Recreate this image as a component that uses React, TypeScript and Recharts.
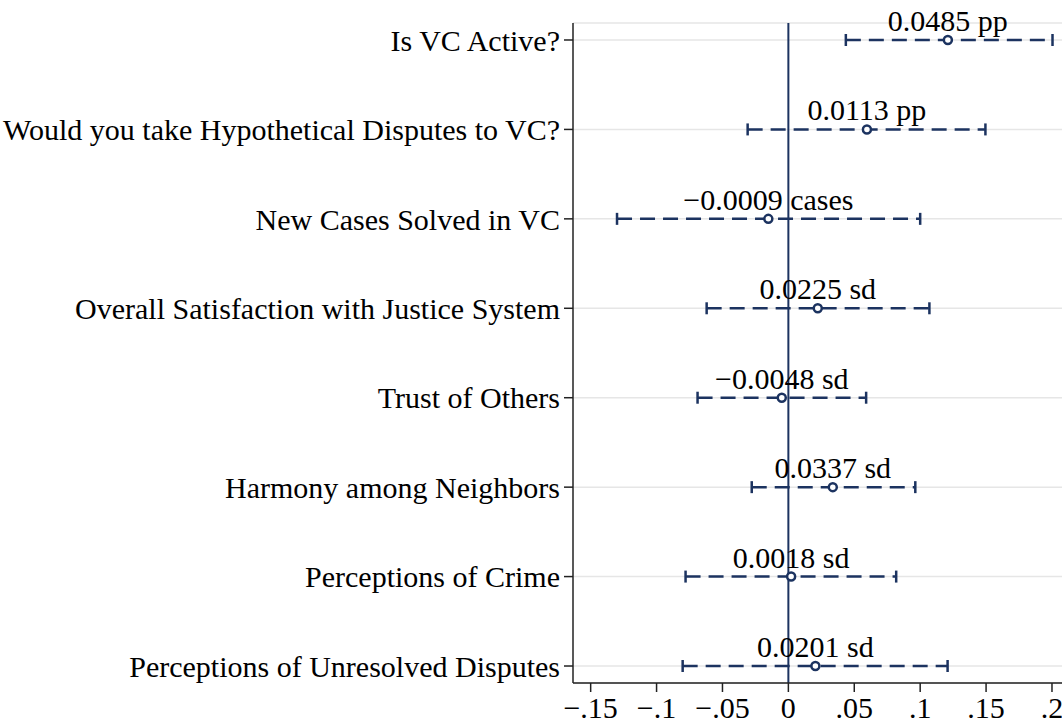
import { ScatterChart, Scatter, XAxis, YAxis, CartesianGrid, ErrorBar, ReferenceLine } from "recharts";

const outcomes = [
  "Is VC Active?",
  "Would you take Hypothetical Disputes to VC?",
  "New Cases Solved in VC",
  "Overall Satisfaction with Justice System",
  "Trust of Others",
  "Harmony among Neighbors",
  "Perceptions of Crime",
  "Perceptions of Unresolved Disputes",
];
const estimates = [0.121, 0.0596, -0.0152, 0.0223, -0.005, 0.0337, 0.0021, 0.0205];
const lower = [0.0436, -0.0309, -0.13, -0.062, -0.0689, -0.0278, -0.078, -0.0802];
const upper = [0.2004, 0.1495, 0.1, 0.107, 0.059, 0.0963, 0.0818, 0.1208];
const effectLabels = ["0.0485 pp", "0.0113 pp", "\u22120.0009 cases", "0.0225 sd", "\u22120.0048 sd", "0.0337 sd", "0.0018 sd", "0.0201 sd"];

const xTicks = [-0.15, -0.1, -0.05, 0, 0.05, 0.1, 0.15, 0.2];
const xTickLabels = ["\u2212.15", "\u2212.1", "\u2212.05", "0", ".05", ".1", ".15", ".2"];

const NAVY = "#1c3360";
const FONT = "'Liberation Serif', 'Times New Roman', serif";

// top row first, so position counts down
const data = outcomes.map((name, i) => ({
  name,
  pos: outcomes.length - i,
  est: estimates[i],
  err: [estimates[i] - lower[i], upper[i] - estimates[i]],
  label: effectLabels[i],
}));

const yTicks = data.map((d) => d.pos);

const PointWithLabel = (props: any) => {
  const { cx, cy, payload } = props;
  return (
    <g>
      <circle cx={cx} cy={cy} r={4} fill="#fff" stroke={NAVY} strokeWidth={2.5} />
      <text x={cx} y={cy - 9} textAnchor="middle" fontFamily={FONT} fontSize={30} fill="#000">
        {payload.label}
      </text>
    </g>
  );
};

export default function App() {
  return (
    <div style={{ position: "absolute", left: 0, top: 0, width: 1062, height: 726, background: "#fff" }}>
      <ScatterChart width={1062} height={726} margin={{ top: 23, right: 0, bottom: 0, left: 0 }}>
        <CartesianGrid horizontal vertical={false} stroke="#e6e6e6" strokeWidth={1.5} />
        <XAxis
          type="number"
          dataKey="est"
          domain={[-0.1634, 0.2076]}
          ticks={xTicks}
          tickFormatter={(v: number) => xTickLabels[xTicks.indexOf(v)] ?? ""}
          height={43}
          tickSize={9}
          tickMargin={5}
          stroke="#222"
          strokeWidth={1.5}
          tick={{ fill: "#000", fontFamily: FONT, fontSize: 30 }}
          interval={0}
        />
        <YAxis
          type="number"
          dataKey="pos"
          domain={[0.81, 8.19]}
          ticks={yTicks}
          tickFormatter={(v: number) => outcomes[outcomes.length - v] ?? ""}
          width={573}
          tickSize={9}
          tickMargin={4}
          stroke="#222"
          strokeWidth={1.5}
          tick={{ fill: "#000", fontFamily: FONT, fontSize: 30 }}
          interval={0}
        />
        <Scatter data={data} isAnimationActive={false} shape={PointWithLabel}>
          <ErrorBar
            dataKey="err"
            direction="x"
            width={6}
            stroke={NAVY}
            strokeWidth={2.5}
            strokeDasharray="15 8"
          />
        </Scatter>
        <ReferenceLine x={0} stroke={NAVY} strokeWidth={2} />
      </ScatterChart>
    </div>
  );
}
